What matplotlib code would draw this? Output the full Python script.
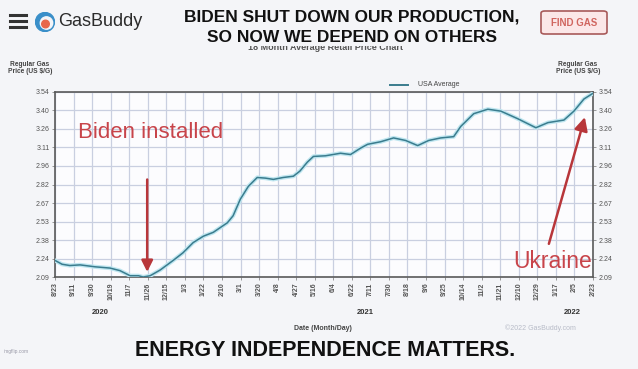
import matplotlib
matplotlib.use("Agg")
from matplotlib import pyplot as plt
from matplotlib.lines import Line2D
from matplotlib.patches import FancyBboxPatch, Circle, Rectangle
import matplotlib.transforms as mtransforms
import numpy as np

plt.rcParams["font.family"] = ["Liberation Sans", "DejaVu Sans"]

# x tick labels (Month/Day), one every ~19 days
date_labels = ["8/23", "9/11", "9/30", "10/19", "11/7", "11/26", "12/15", "1/3",
               "1/22", "2/10", "3/1", "3/20", "4/8", "4/27", "5/16", "6/4",
               "6/22", "7/11", "7/30", "8/18", "9/6", "9/25", "10/14", "11/2",
               "11/21", "12/10", "12/29", "1/17", "2/5", "2/23"]
years = ["2020", "2021", "2022"]
year_pos = [2.43, 16.7, 27.9]

y_tick_labels = ["2.09", "2.24", "2.38", "2.53", "2.67", "2.82",
                 "2.96", "3.11", "3.26", "3.40", "3.54"]

# USA average price (x in tick-index units)
x_pos = [0, 0.38, 0.8, 1.35, 2.16, 2.97, 3.5, 4.05, 4.5, 4.75, 5.13, 5.67,
         6.37, 6.9, 7.45, 8.0, 8.53, 9.29, 9.6, 9.99, 10.42, 10.9, 11.34,
         11.77, 12.3, 12.85, 13.2, 13.6, 13.93, 14.58, 15.39, 15.93, 16.47,
         16.85, 17.55, 18.25, 18.9, 19.55, 20.14, 20.79, 21.49, 21.87, 22.57,
         23.33, 24.03, 24.95, 25.92, 26.57, 27.43, 27.97, 28.51, 29.0]
price = [2.22, 2.19, 2.18, 2.185, 2.17, 2.16, 2.14, 2.10, 2.10, 2.09, 2.10,
         2.145, 2.22, 2.28, 2.36, 2.41, 2.44, 2.515, 2.57, 2.70, 2.80, 2.87,
         2.865, 2.855, 2.87, 2.88, 2.92, 2.99, 3.035, 3.04, 3.06, 3.05, 3.10,
         3.13, 3.15, 3.18, 3.16, 3.12, 3.16, 3.18, 3.19, 3.27, 3.37, 3.405,
         3.39, 3.33, 3.26, 3.30, 3.32, 3.39, 3.485, 3.53]

bg = "#f4f5f8"
red = "#c8444a"

fig = plt.figure(figsize=(6.38, 3.69), dpi=100, facecolor=bg)
ax = fig.add_axes([0.0862, 0.2493, 0.8433, 0.5014], facecolor="#fcfcfe")

# glow + line
ax.plot(x_pos, price, color="#bfe6f0", lw=3.0, solid_capstyle="round", zorder=3)
ax.plot(x_pos, price, color="#3a7c8e", lw=1.1, zorder=4)

ax.set_xlim(0, len(date_labels) - 1)
ax.set_ylim(2.09, 3.54)
ax.set_xticks(range(len(date_labels)))
ax.set_xticklabels(date_labels, rotation=90, fontsize=5, color="#555555",
                   fontweight="bold")
ax.set_yticks(np.linspace(2.09, 3.54, len(y_tick_labels)))
ax.set_yticklabels(y_tick_labels, fontsize=5, color="#555555")
ax.tick_params(axis="both", length=2, width=0.6, color="#888888", pad=2)
ax.tick_params(axis="y", right=True, labelright=True)
ax.grid(True, color="#c9cfe0", lw=0.9)
ax.set_axisbelow(True)
for s in ax.spines.values():
    s.set_color("#5a5a5a")
    s.set_linewidth(1.2)

# year labels under the dates
trans = mtransforms.blended_transform_factory(ax.transData, ax.transAxes)
for yr, xp in zip(years, year_pos):
    ax.text(xp, -0.19, yr, transform=trans, ha="center", va="center",
            fontsize=5.5, fontweight="bold", color="#333333")

# annotations
ax.text(1.24, 3.225, "Biden installed", fontsize=16, color=red,
        ha="left", va="center", zorder=6)
ax.annotate("", xy=(x_pos[10] - 0.16, price[10] + 0.03),
            xytext=(x_pos[10] - 0.16, 2.854),
            arrowprops=dict(arrowstyle="-|>", color="#b8363a", lw=1.8,
                            mutation_scale=17, shrinkA=0, shrinkB=0), zorder=6)
ax.text(28.94, 2.21, "Ukraine", fontsize=16.5, color=red,
        ha="right", va="center", zorder=6)
ax.annotate("", xy=(28.56, 3.343), xytext=(26.62, 2.35),
            arrowprops=dict(arrowstyle="-|>", color="#b8363a", lw=1.8,
                            mutation_scale=20, shrinkA=0, shrinkB=0), zorder=6)

# legend
fig.add_artist(Line2D([390 / 638, 408 / 638], [1 - 85 / 369] * 2,
                      color="#3a7c8e", lw=1.4))
fig.text(418 / 638, 1 - 85 / 369, "USA Average", fontsize=5, color="#444444",
         va="center")

# axis side titles
for xc in (30 / 638, 578 / 638):
    fig.text(xc, 1 - 68 / 369, "Regular Gas\nPrice (US $/G)", fontsize=4.8,
             fontweight="bold", color="#444444", ha="center", va="center",
             linespacing=1.1)

# header (sub-title is partly hidden behind the banner)
fig.text(325 / 638, 1 - 47.5 / 369, "18 Month Average Retail Price Chart",
         fontsize=6.5, fontweight="bold", color="#555555", ha="center",
         va="center", zorder=1)
fig.add_artist(Rectangle((0, 1 - 46 / 369), 1, 46 / 369, transform=fig.transFigure,
                         facecolor=bg, edgecolor="none", zorder=2))
fig.text(352 / 638, 1 - 17 / 369, "BIDEN SHUT DOWN OUR PRODUCTION,",
         fontsize=12.5, fontweight="bold", color="#111111", ha="center",
         va="center", zorder=3)
fig.text(352 / 638, 1 - 37 / 369, "SO NOW WE DEPEND ON OTHERS",
         fontsize=12.5, fontweight="bold", color="#111111", ha="center",
         va="center", zorder=3)

for yy in (15, 21, 27):
    fig.add_artist(Line2D([10 / 638, 26 / 638], [1 - yy / 369] * 2,
                          color="#333333", lw=2.2, zorder=3))
logo_ax = fig.add_axes([35 / 638, 1 - 32 / 369, 20 / 638, 20 / 369], zorder=5)
logo_ax.set_xlim(-1, 1)
logo_ax.set_ylim(-1, 1)
logo_ax.set_aspect("equal")
logo_ax.axis("off")
logo_ax.add_patch(Circle((0, 0), 0.95, color="#3a8fc9"))
logo_ax.add_patch(Circle((0.15, -0.1), 0.62, color="#f4f5f8"))
logo_ax.add_patch(Circle((0.05, -0.2), 0.38, color="#e8674a"))
fig.text(58 / 638, 1 - 22 / 369, "GasBuddy", fontsize=13, color="#2b2b2b",
         ha="left", va="center", zorder=3)

fig.add_artist(FancyBboxPatch((541 / 638, 1 - 34 / 369), 66 / 638, 23 / 369,
                              boxstyle="round,pad=0,rounding_size=0.006",
                              transform=fig.transFigure, facecolor="#fbe7e8",
                              edgecolor="#a85a5a", lw=1.2, zorder=3))
fig.text(574 / 638, 1 - 22.5 / 369, "FIND GAS", fontsize=7, fontweight="bold",
         color="#d0655f", ha="center", va="center", zorder=4)

# footer
fig.text(323 / 638, 1 - 329 / 369, "Date (Month/Day)", fontsize=5,
         fontweight="bold", color="#444444", ha="center", va="center")
fig.text(540 / 638, 1 - 328 / 369, "\u00a92022 GasBuddy.com", fontsize=5,
         color="#b8bcc8", ha="center", va="center")
fig.text(325 / 638, 1 - 350 / 369, "ENERGY INDEPENDENCE MATTERS.",
         fontsize=15.5, fontweight="bold", color="#111111", ha="center",
         va="center")
fig.text(16 / 638, 1 - 352 / 369, "imgflip.com", fontsize=3.5,
         color="#9a9aa8", ha="center", va="center")

fig.savefig("out.png", dpi=100, facecolor=bg)
